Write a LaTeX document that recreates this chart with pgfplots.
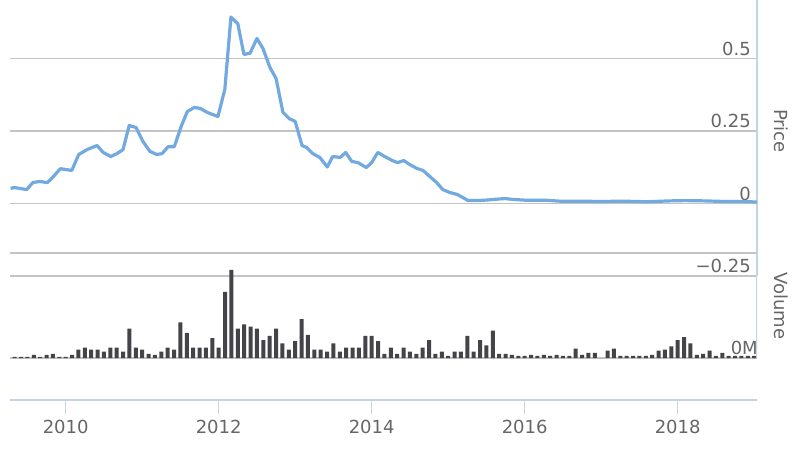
\documentclass[border=0pt]{standalone}
\usepackage{fontspec}
\setmainfont{DejaVu Sans}
\usepackage{pgfplots}
\pgfplotsset{compat=1.18}

\definecolor{pricecol}{HTML}{72A9E1}
\definecolor{barcol}{HTML}{434348}
\definecolor{gridgray}{HTML}{C4C4C4}
\definecolor{axisline}{HTML}{C5D3E6}
\definecolor{labelgray}{HTML}{666666}

\newcommand{\lblfont}{\fontsize{18}{21}\selectfont}

\begin{document}
\begin{tikzpicture}
\useasboundingbox (0,0) rectangle (795pt,448pt);

% price pane
\begin{axis}[
  at={(10pt,172pt)}, anchor=south west,
  scale only axis, width=747pt, height=276pt,
  xmin=2009.272, xmax=2019.037,
  ymin=-0.25, ymax=0.7017,
  hide x axis,
  axis y line*=right,
  y axis line style={draw=axisline, line width=2.5pt, -},
  ytick={-0.25,0,0.25,0.5},
  yticklabels={−0.25,0,0.25,0.5},
  major tick length=0pt,
  ymajorgrids, grid style={gridgray, line width=1.3pt},
  yticklabel style={anchor=south east, inner sep=0pt, xshift=-6pt, yshift=3pt,
    font=\lblfont, text=labelgray},
  ylabel={Price},
  every axis y label/.style={at={(rel axis cs:1,0.5)}, xshift=24pt, yshift=7pt,
    rotate=-90, anchor=center, font=\lblfont, text=labelgray},
]
\addplot[pricecol, line width=3.2pt, line join=round] coordinates {
(2009.28,0.052) (2009.33,0.055) (2009.49,0.048) (2009.57,0.072) (2009.66,0.076)
(2009.76,0.072) (2009.83,0.090) (2009.93,0.120) (2010.08,0.114) (2010.17,0.169)
(2010.28,0.186) (2010.41,0.200) (2010.49,0.176) (2010.59,0.162) (2010.67,0.172)
(2010.75,0.186) (2010.83,0.269) (2010.92,0.262) (2011.01,0.214) (2011.10,0.180)
(2011.19,0.169) (2011.26,0.172) (2011.34,0.196) (2011.42,0.196) (2011.51,0.266)
(2011.59,0.317) (2011.68,0.331) (2011.76,0.328) (2011.85,0.314) (2011.99,0.300)
(2012.08,0.393) (2012.16,0.643) (2012.25,0.620) (2012.33,0.514) (2012.41,0.518)
(2012.50,0.569) (2012.58,0.534) (2012.67,0.469) (2012.75,0.431) (2012.84,0.314)
(2012.92,0.293) (2013.00,0.283) (2013.09,0.200) (2013.15,0.193) (2013.23,0.172)
(2013.32,0.159) (2013.42,0.126) (2013.49,0.162) (2013.59,0.159) (2013.66,0.176)
(2013.74,0.145) (2013.82,0.141) (2013.93,0.124) (2014.00,0.141) (2014.08,0.176)
(2014.17,0.162) (2014.27,0.148) (2014.34,0.141) (2014.42,0.148) (2014.50,0.134)
(2014.59,0.121) (2014.67,0.114) (2014.76,0.093) (2014.85,0.072) (2014.93,0.048)
(2015.02,0.038) (2015.12,0.031) (2015.19,0.021) (2015.26,0.010) (2015.38,0.010)
(2015.51,0.012) (2015.59,0.014) (2015.74,0.017) (2015.85,0.014) (2016.03,0.011)
(2016.29,0.011) (2016.46,0.008) (2016.70,0.008) (2017.00,0.007) (2017.30,0.008)
(2017.60,0.006) (2017.90,0.009) (2018.10,0.010) (2018.35,0.009) (2018.60,0.007)
(2018.85,0.007) (2019.04,0.005)
};
\end{axis}

% volume pane
\begin{axis}[
  at={(10pt,48pt)}, anchor=south west,
  scale only axis, width=747pt, height=147pt,
  xmin=2009.272, xmax=2019.037,
  ymin=-0.4, ymax=1,
  axis x line=bottom, axis y line=right,
  x axis line style={draw=axisline, line width=1.5pt, -},
  y axis line style={draw=none},
  xtick={2010,2012,2014,2016,2018},
  xticklabels={2010,2012,2014,2016,2018},
  xtick align=outside,
  major tick length=14pt,
  x tick style={draw=axisline, line width=1.5pt},
  y tick style={draw=none},
  ytick={0,1}, yticklabels={0M,{}},
  ymajorgrids, grid style={gridgray, line width=1.3pt},
  xticklabel style={font=\lblfont, text=labelgray, yshift=-3pt},
  yticklabel style={anchor=south east, inner sep=0pt, xshift=-6pt, yshift=3pt,
    font=\lblfont, text=labelgray},
  ylabel={Volume},
  every axis y label/.style={at={(rel axis cs:1,0.5)}, xshift=24pt, yshift=20.5pt,
    rotate=-90, anchor=center, font=\lblfont, text=labelgray},
]
\addplot[ybar, bar width=4pt, fill=barcol, draw=none] coordinates {
(2009.333,0.01) (2009.417,0.01) (2009.500,0.01) (2009.583,0.03) (2009.667,0.01)
(2009.750,0.03) (2009.833,0.04) (2009.917,0.01) (2010.000,0.01) (2010.083,0.03)
(2010.167,0.08) (2010.250,0.10) (2010.333,0.08) (2010.417,0.08) (2010.500,0.06)
(2010.583,0.10) (2010.667,0.10) (2010.750,0.06) (2010.833,0.28) (2010.917,0.10)
(2011.000,0.08) (2011.083,0.04) (2011.167,0.03) (2011.250,0.06) (2011.333,0.10)
(2011.417,0.08) (2011.500,0.34) (2011.583,0.24) (2011.667,0.10) (2011.750,0.10)
(2011.833,0.10) (2011.917,0.19) (2012.000,0.10) (2012.083,0.63) (2012.167,0.84)
(2012.250,0.28) (2012.333,0.32) (2012.417,0.30) (2012.500,0.28) (2012.583,0.17)
(2012.667,0.21) (2012.750,0.28) (2012.833,0.14) (2012.917,0.08) (2013.000,0.16)
(2013.083,0.37) (2013.167,0.22) (2013.250,0.08) (2013.333,0.08) (2013.417,0.06)
(2013.500,0.14) (2013.583,0.06) (2013.667,0.10) (2013.750,0.10) (2013.833,0.10)
(2013.917,0.21) (2014.000,0.21) (2014.083,0.16) (2014.167,0.04) (2014.250,0.10)
(2014.333,0.04) (2014.417,0.10) (2014.500,0.06) (2014.583,0.04) (2014.667,0.10)
(2014.750,0.17) (2014.833,0.04) (2014.917,0.06) (2015.000,0.02) (2015.083,0.06)
(2015.167,0.06) (2015.250,0.21) (2015.333,0.06) (2015.417,0.17) (2015.500,0.12)
(2015.583,0.26) (2015.667,0.04) (2015.750,0.04) (2015.833,0.03) (2015.917,0.02)
(2016.000,0.02) (2016.083,0.03) (2016.167,0.02) (2016.250,0.03) (2016.333,0.02)
(2016.417,0.03) (2016.500,0.02) (2016.583,0.02) (2016.667,0.09) (2016.750,0.03)
(2016.833,0.05) (2016.917,0.05) (2017.000,0.00) (2017.083,0.07) (2017.167,0.09)
(2017.250,0.02) (2017.333,0.02) (2017.417,0.02) (2017.500,0.02) (2017.583,0.02)
(2017.667,0.03) (2017.750,0.07) (2017.833,0.08) (2017.917,0.11) (2018.000,0.17)
(2018.083,0.20) (2018.167,0.14) (2018.250,0.03) (2018.333,0.04) (2018.417,0.07)
(2018.500,0.02) (2018.583,0.05) (2018.667,0.02) (2018.750,0.02) (2018.833,0.02)
(2018.917,0.02) (2019.000,0.02)
};
\draw[axisline, line width=2.5pt] (axis cs:2019.037,0) -- (axis cs:2019.037,1);
\end{axis}
\end{tikzpicture}
\end{document}
